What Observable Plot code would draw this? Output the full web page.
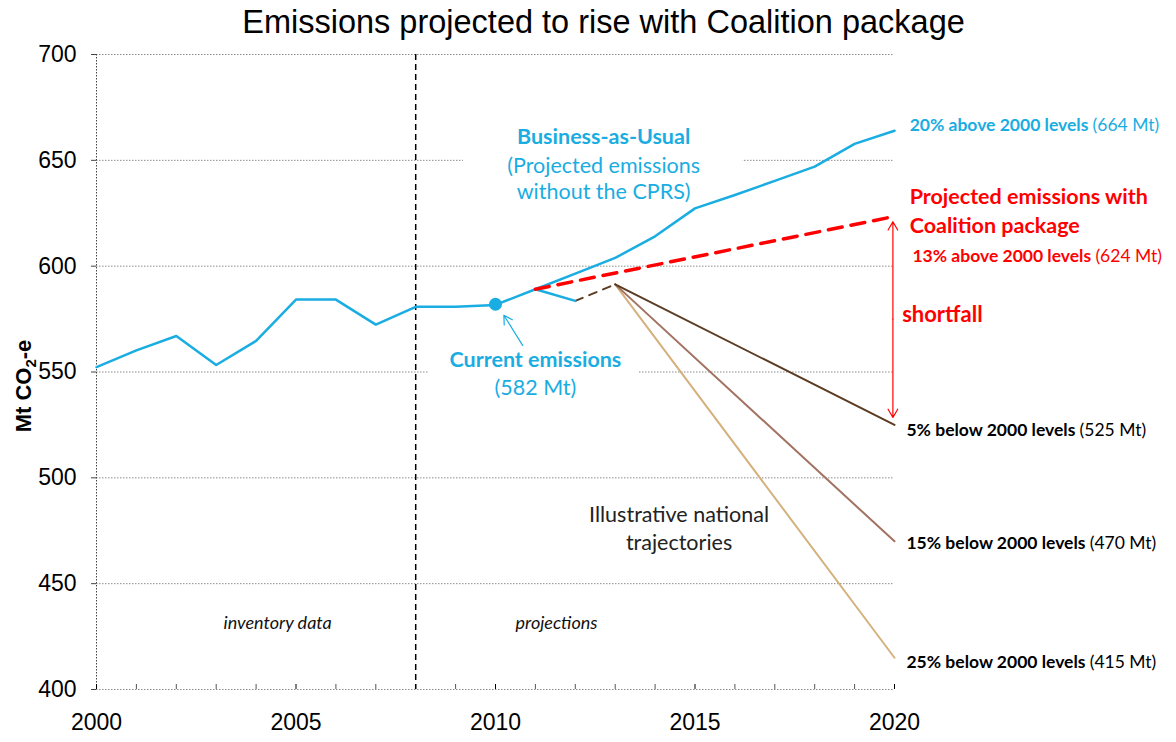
<!DOCTYPE html>
<html><head><meta charset="utf-8">
<script src="https://cdn.jsdelivr.net/npm/d3@7"></script>
<script src="https://cdn.jsdelivr.net/npm/@observablehq/plot@0.6"></script>
<style>body{margin:0;background:#fff} #chart{width:1176px;height:742px}</style>
</head><body><div id="chart"></div>
<script>
// ---- data ----
const years = d3.range(2000, 2021);
const bauValues = [552.3, 560.2, 567.0, 553.3, 564.7, 584.2, 584.2, 572.4, 580.8, 580.8, 581.7, 589.1, 596.5, 603.9, 614.1, 627.3, 633.6, 640.3, 647.0, 657.8, 664.0];
const dipYears = [2011, 2012];
const dipValues = [589.1, 583.6];
const bridgeYears = [2012, 2013];
const bridgeValues = [583.6, 591.4];
const coalitionYears = [2011, 2020];
const coalitionValues = [589.1, 623.5];
const trajectoryYears = [2013, 2020];
const trajectory5 = [591.4, 525];
const trajectory15 = [591.4, 470];
const trajectory25 = [591.4, 415];
const currentYear = 2010;
const currentValue = 582;
const yTicks = [400, 450, 500, 550, 600, 650, 700];
const xTickLabels = [2000, 2005, 2010, 2015, 2020];
const inventoryEnd = 2008;

const CYAN = "#1AADE2", RED = "#FF0000", BROWN1 = "#5B3B22", BROWN2 = "#A27262", BROWN3 = "#D4B17E";
const SANS = "Lato, 'Open Sans', sans-serif";
const ARIAL = "'Liberation Sans', Arial, sans-serif";

const toRows = (xs, ys) => xs.map((x, i) => ({x, y: ys[i]}));
const bau = toRows(years, bauValues);
const dip = toRows(dipYears, dipValues);
const bridge = toRows(bridgeYears, bridgeValues);
const coalition = toRows(coalitionYears, coalitionValues);
const traj5 = toRows(trajectoryYears, trajectory5);
const traj15 = toRows(trajectoryYears, trajectory15);
const traj25 = toRows(trajectoryYears, trajectory25);

// annotation texts (position in data units)
const notes = [
  {t: "Business-as-Usual", x: 2012.71, y: 660.8, c: CYAN, w: "bold", a: "middle", s: 21.5},
  {t: "(Projected emissions", x: 2012.71, y: 647.1, c: CYAN, w: "normal", a: "middle", s: 21.5},
  {t: "without the CPRS)", x: 2012.71, y: 634.9, c: CYAN, w: "normal", a: "middle", s: 21.5},
  {t: "Current emissions", x: 2011.0, y: 555.5, c: CYAN, w: "bold", a: "middle", s: 21.5},
  {t: "(582 Mt)", x: 2011.0, y: 542.3, c: CYAN, w: "normal", a: "middle", s: 21.5},
  {t: "Illustrative national", x: 2014.6, y: 482.3, c: "#222", w: "normal", a: "middle", s: 21.5},
  {t: "trajectories", x: 2014.6, y: 469.1, c: "#222", w: "normal", a: "middle", s: 21.5},
  {t: "shortfall", x: 2021.2, y: 576.8, c: RED, w: "bold", a: "middle", s: 22},
  {t: "Projected emissions with", x: 2020.38, y: 632.5, c: RED, w: "bold", a: "start", s: 21.5},
  {t: "Coalition package", x: 2020.38, y: 618.8, c: RED, w: "bold", a: "start", s: 21.5},
  {t: "13% above 2000 levels|(624 Mt)", x: 2020.45, y: 604.6, c: RED, w: "bold", a: "start", s: 17.5},
  {t: "20% above 2000 levels|(664 Mt)", x: 2020.38, y: 666.4, c: CYAN, w: "bold", a: "start", s: 17.5},
  {t: "5% below 2000 levels|(525 Mt)", x: 2020.30, y: 522.5, c: "#000", w: "bold", a: "start", s: 17.5},
  {t: "15% below 2000 levels|(470 Mt)", x: 2020.30, y: 469.1, c: "#000", w: "bold", a: "start", s: 17.5},
  {t: "25% below 2000 levels|(415 Mt)", x: 2020.30, y: 413.0, c: "#000", w: "bold", a: "start", s: 17.5}
];
const italicNotes = [
  {t: "inventory data", x: 2004.54, y: 431.4},
  {t: "projections", x: 2011.53, y: 431.4}
];

const textMarks = notes.map(n => Plot.text([n], {
  x: "x", y: "y", text: "t", fill: n.c, fontWeight: n.w, textAnchor: n.a,
  lineAnchor: "middle", fontSize: n.s, fontFamily: SANS
}));

const plot = Plot.plot({
  width: 1176, height: 742,
  marginLeft: 96, marginRight: 282, marginTop: 54, marginBottom: 53,
  x: {domain: [2000, 2020]},
  y: {domain: [400, 700]},
  style: {fontFamily: ARIAL, fontSize: "23px", color: "#000", background: "#fff", overflow: "visible"},
  marks: [
    Plot.ruleY(yTicks, {stroke: "#8c8c8c", strokeDasharray: "1.5,1.5", strokeWidth: 1}),
    // white text boxes cutting the gridlines
    Plot.rect([0], {x1: 2009.2, x2: 2016.2, y1: 640, y2: 665, fill: "#fff"}),
    Plot.rect([0], {x1: 2008.32, x2: 2013.58, y1: 545, y2: 556, fill: "#fff"}),
    Plot.ruleX([2000], {stroke: "#444", strokeDasharray: "1.5,1.5", strokeWidth: 1}),
    Plot.tickX(years, {x: d => d, insetTop: 630, stroke: d => d % 5 === 0 ? "#000" : "#555",
      strokeDasharray: d => d % 5 === 0 ? null : "1,1", strokeWidth: 1}),
    Plot.axisY({ticks: yTicks, tickSize: 5, tickPadding: 15, stroke: "#444", fontSize: 23, tickFormat: d => String(d)}),
    Plot.axisX({ticks: xTickLabels, tickSize: 0, tickPadding: 24, fontSize: 23, tickFormat: d => String(d)}),
    Plot.ruleX([inventoryEnd], {stroke: "#000", strokeDasharray: "6,4", strokeWidth: 1.5}),
    Plot.line(traj25, {x: "x", y: "y", stroke: BROWN3, strokeWidth: 2}),
    Plot.line(traj15, {x: "x", y: "y", stroke: BROWN2, strokeWidth: 2}),
    Plot.line(traj5, {x: "x", y: "y", stroke: BROWN1, strokeWidth: 2}),
    Plot.line(bridge, {x: "x", y: "y", stroke: BROWN1, strokeWidth: 2, strokeDasharray: "8,7"}),
    Plot.line(dip, {x: "x", y: "y", stroke: CYAN, strokeWidth: 2.5}),
    Plot.line(bau, {x: "x", y: "y", stroke: CYAN, strokeWidth: 2.5}),
    Plot.line(coalition, {x: "x", y: "y", stroke: RED, strokeWidth: 3.5, strokeDasharray: "14,9"}),
    Plot.dot([{x: currentYear, y: currentValue}], {x: "x", y: "y", r: 6.5, fill: CYAN}),
    Plot.arrow([{x1: 2010.68, y1: 562.6, x2: 2010.21, y2: 576.8}], {x1: "x1", y1: "y1", x2: "x2", y2: "y2", stroke: CYAN, strokeWidth: 1.2, headLength: 12}),
    Plot.arrow([{x1: 2019.96, y1: 575, x2: 2019.96, y2: 621}, {x1: 2019.96, y1: 575, x2: 2019.96, y2: 528.5}],
      {x1: "x1", y1: "y1", x2: "x2", y2: "y2", stroke: RED, strokeWidth: 1.2, headLength: 12}),
    Plot.text(italicNotes, {x: "x", y: "y", text: "t", fontStyle: "italic", fontSize: 18, fontFamily: SANS, fill: "#111", lineAnchor: "middle"}),
    ...textMarks,
    Plot.text(["Emissions projected to rise with Coalition package"], {frameAnchor: "top", dx: 108, dy: -22, lineAnchor: "bottom", fontSize: 32.5, fontFamily: ARIAL, fill: "#000"}),
    Plot.text(["Mt CO2-e"], {frameAnchor: "left", textAnchor: "middle", dx: -73, dy: 14, rotate: -90, fontSize: 22, fontWeight: "bold", fontFamily: ARIAL, fill: "#000"})
  ]
});

// rich text post-processing: bold|regular split and CO2 subscript
d3.select(plot).selectAll("text").each(function() {
  const el = d3.select(this);
  const txt = this.textContent;
  if (txt.includes("|") && this.children.length === 0) {
    const [b, r] = txt.split("|");
    el.text(null);
    el.append("tspan").attr("font-weight", "bold").text(b + " ");
    el.append("tspan").attr("font-weight", "normal").text(r);
  } else if (txt === "Mt CO2-e" && this.children.length === 0) {
    el.text(null);
    el.append("tspan").text("Mt CO");
    el.append("tspan").attr("font-size", "15px").attr("dy", "5").text("2");
    el.append("tspan").attr("dy", "-5").text("-e");
  }
});
document.getElementById("chart").appendChild(plot);
</script>
</body></html>
